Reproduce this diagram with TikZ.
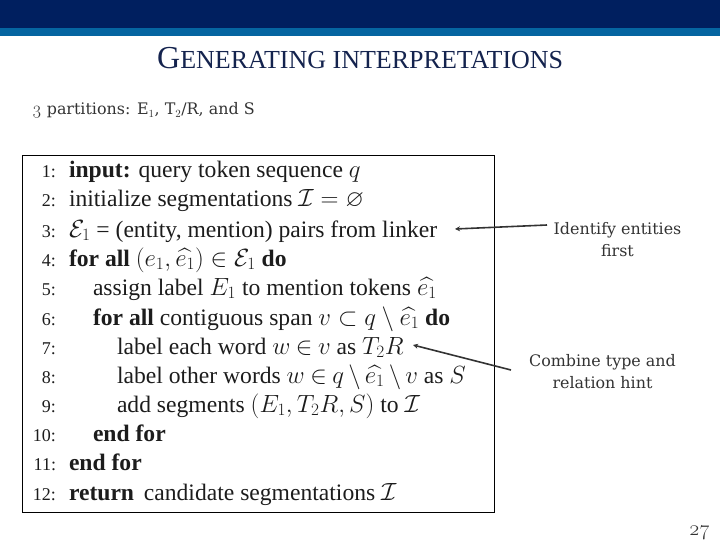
\documentclass[tikz,border=0pt]{standalone}
\usepackage{amsmath,amssymb}
\usepackage{fontspec}
\setmainfont{Liberation Serif}
\newfontfamily\notefont{DejaVu Serif}
\newfontfamily\notedigits[Numbers=OldStyle]{Latin Modern Roman}
\definecolor{navy}{HTML}{001F5F}
\definecolor{band}{HTML}{0565A1}
\definecolor{titleink}{HTML}{14234E}
\definecolor{noteink}{HTML}{333333}
\definecolor{algink}{HTML}{1C1C1C}
\usetikzlibrary{arrows.meta}
\tikzset{
  x=1pt,y=-1pt,
  algline/.style={anchor=base west,inner sep=0,outer sep=0,text=algink,font=\fontsize{23.6}{26}\selectfont},
  algnum/.style={anchor=base east,inner sep=0,outer sep=0,text=algink,font=\fontsize{18}{20}\selectfont},
  note/.style={align=center,inner sep=0,text=noteink,font=\notefont\fontsize{15.9}{22}\selectfont},
  callout/.style={draw=noteink,line width=1.6pt,-{Stealth[length=5pt,width=5pt]}}
}
\begin{document}
\begin{tikzpicture}
\useasboundingbox (0,0) rectangle (720,540);
\fill[navy] (0,0) rectangle (720,28);
\fill[band] (0,28) rectangle (720,36);
\node[anchor=base west,inner sep=0,text=titleink] (title) at (157,69)
  {\fontsize{32}{34}\selectfont G\fontsize{26}{28}\selectfont ENERATING INTERPRETATIONS};
\node[anchor=base west,inner sep=0,text=noteink,font=\notefont\fontsize{15.9}{20}\selectfont] (sub) at (32,115)
  {{\notedigits\fontsize{18}{20}\selectfont 3} partitions: E$_1$, T$_2$/R, and S};
\node[draw=black,line width=1pt,minimum width=472pt,minimum height=357pt,inner sep=0,anchor=north west] (box) at (22,155) {};

\foreach \n/\y in {1/178,2/207,3/237,4/266,5/295,6/325,7/354,8/383,9/412,10/441,11/470,12/500}
  \node[algnum] (n\n) at (56,\y) {\n:};

\node[algline] (l1) at (69,178) {\textbf{input:} query token sequence $q$};
\node[algline] (l2) at (69,207) {initialize segmentations $\mathcal{I}=\varnothing$};
\node[algline] (l3) at (69,237) {$\mathcal{E}_1$ = (entity, mention) pairs from linker};
\node[algline] (l4) at (69,266) {\textbf{for all} $(e_1,\widehat{e_1})\in\mathcal{E}_1$ \textbf{do}};
\node[algline] (l5) at (93,295) {assign label $E_1$ to mention tokens $\widehat{e_1}$};
\node[algline] (l6) at (93,325) {\textbf{for all} contiguous span $v\subset q\setminus\widehat{e_1}$ \textbf{do}};
\node[algline] (l7) at (117,354) {label each word $\thickmuskip=4mu w\in v$ as $T_2R$};
\node[algline] (l8) at (117,383) {label other words $\thickmuskip=4mu\medmuskip=3mu w\in q\setminus\widehat{e_1}\setminus v$ as $S$};
\node[algline] (l9) at (117,412) {add segments $(E_1,T_2R,S)$ to $\mathcal{I}$};
\node[algline] (l10) at (93,441) {\textbf{end for}};
\node[algline] (l11) at (69,470) {\textbf{end for}};
\node[algline] (l12) at (69,500) {\textbf{return}\, candidate segmentations $\mathcal{I}$};

\node[note] (hint1) at (617.5,240) {Identify entities\\first};
\node[note] (hint2) at (602.5,372) {Combine type and\\relation hint};
\coordinate (t1) at (455,229);
\coordinate (s1) at (547,225);
\coordinate (t2) at (413,345);
\coordinate (s2) at (511,370);
\draw[callout] (s1) -- (t1);
\draw[callout] (s2) -- (t2);
\node[anchor=base east,inner sep=0,text=noteink,font=\notedigits\fontsize{21}{22}\selectfont] (page) at (710,535) {27};
\end{tikzpicture}
\end{document}
